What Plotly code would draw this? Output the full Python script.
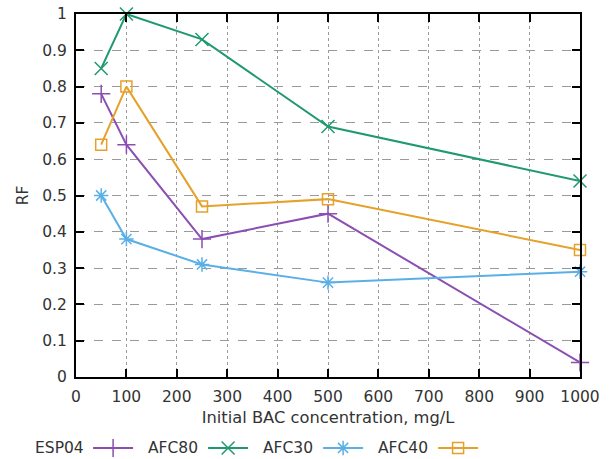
import plotly.graph_objects as go

conc = [50, 100, 250, 500, 1000]
series_names = ["ESP04", "AFC80", "AFC30", "AFC40"]
esp04 = [0.78, 0.64, 0.38, 0.45, 0.04]
afc80 = [0.85, 1.00, 0.93, 0.69, 0.54]
afc30 = [0.50, 0.38, 0.31, 0.26, 0.29]
afc40 = [0.64, 0.80, 0.47, 0.49, 0.35]
x_ticks = list(range(0, 1001, 100))
y_ticks = [round(i * 0.1, 1) for i in range(11)]

values = [esp04, afc80, afc30, afc40]
colors = ["#8b4fb3", "#1f9a6e", "#5ab0e6", "#e6a12a"]
symbols = ["cross-thin-open", "x-thin-open", "asterisk-open", "square-open"]
sizes = [13, 13, 12, 11]

FONT = "DejaVu Sans"
FS = 15.5
TXT = "#333333"
fig = go.Figure()
for name, vals, c, s, sz in zip(series_names, values, colors, symbols, sizes):
    fig.add_trace(go.Scatter(
        x=conc, y=vals, name=name, mode="lines+markers",
        line=dict(color=c, width=2),
        marker=dict(symbol=s, size=sz, color=c, line=dict(color=c, width=1.5)),
        cliponaxis=False,
    ))

axis_common = dict(
    showline=True, linecolor="black", linewidth=2, mirror="ticks",
    ticks="inside", ticklen=8, tickwidth=2, tickcolor="black",
    showgrid=True, gridcolor="#9a9a9a", gridwidth=1, zeroline=False,
    tickfont=dict(family=FONT, size=FS, color=TXT), automargin=False,
)
fig.update_xaxes(range=[0, 1000], tickvals=x_ticks, griddash="dot",
                 ticklabelstandoff=4,
                 title=dict(text="Initial BAC concentration, mg/L", standoff=7,
                            font=dict(family=FONT, size=16.3, color=TXT)),
                 **axis_common)
fig.update_yaxes(range=[0, 1], tickvals=y_ticks, griddash="dash",
                 ticklabelstandoff=4,
                 title=dict(text="RF", standoff=10,
                            font=dict(family=FONT, size=FS, color=TXT)),
                 **axis_common)

# legend: symbols from plotly legend, labels placed to the left as annotations
LEG_Y = -0.1956
label_x = [0.02, 0.246, 0.475, 0.702]
annotations = []
for name, lx in zip(series_names, label_x):
    annotations.append(dict(text=name, x=lx, xref="paper", xanchor="right",
                            y=LEG_Y, yref="paper", yanchor="middle",
                            showarrow=False,
                            font=dict(family=FONT, size=FS, color=TXT)))

fig.update_layout(
    width=610, height=459,
    margin=dict(l=76, r=30, t=14, b=82, autoexpand=False),
    plot_bgcolor="white", paper_bgcolor="white",
    font=dict(family=FONT, size=FS, color=TXT),
    showlegend=True,
    annotations=annotations,
    legend=dict(orientation="h", x=0.024, xanchor="left",
                y=0.024, yref="container", yanchor="middle",
                font=dict(family=FONT, size=1, color="rgba(0,0,0,0)"),
                entrywidth=60, entrywidthmode="pixels", itemwidth=40,
                tracegroupgap=0, bgcolor="rgba(0,0,0,0)"),
)
fig.write_html("out.html")
